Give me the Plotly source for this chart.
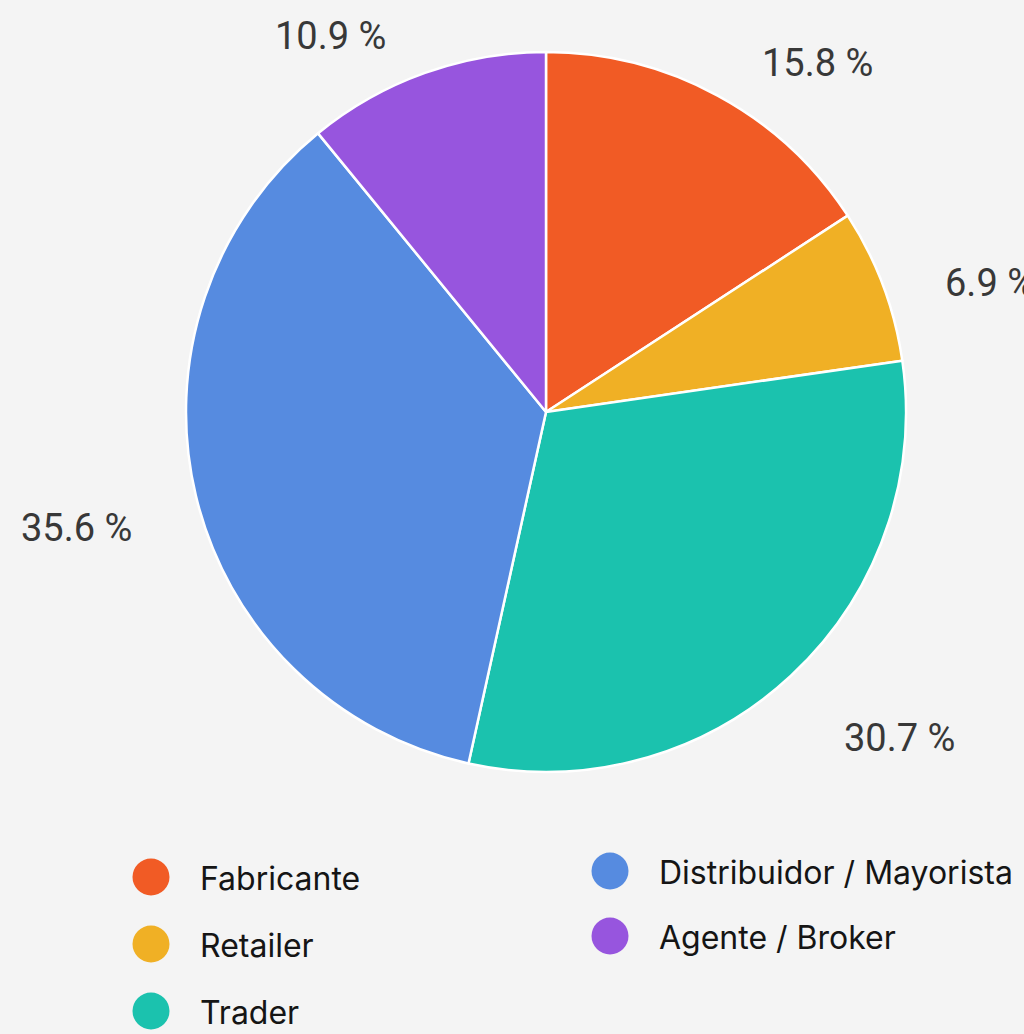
import math
import plotly.graph_objects as go

# ---- data ----
categories = ["Fabricante", "Retailer", "Trader", "Distribuidor / Mayorista", "Agente / Broker"]
shares = [15.8, 6.9, 30.7, 35.6, 10.9]
colors = ["#F15B25", "#F0B025", "#1BC2AE", "#568BE0", "#9755DE"]

# ---- layout constants (pixels) ----
W, H = 1024, 1034
CX, CY, R = 546, 412, 360

def px_x(x):
    return x / W

def px_y(y):
    return 1 - y / H

fig = go.Figure()
fig.add_trace(go.Pie(
    labels=categories,
    values=shares,
    marker=dict(colors=colors, line=dict(color="white", width=2.5)),
    sort=False,
    direction="clockwise",
    rotation=0,
    textinfo="none",
    hoverinfo="label+percent",
    showlegend=False,
    domain=dict(x=[px_x(CX - R), px_x(CX + R)], y=[px_y(CY + R), px_y(CY - R)]),
))

annotations = []
shapes = []

# percentage labels outside the slices, positioned from each slice's mid-angle
total = sum(shares)
cum = 0.0
for v in shares:
    mid = (cum + v / 2) / total * 2 * math.pi
    cum += v
    s, c = math.sin(mid), math.cos(mid)
    side = 1 if s >= 0 else -1
    lx = CX + 399 * s + side * 24
    ly = CY + 19 - 419 * c
    annotations.append(dict(
        x=px_x(lx), y=px_y(ly), xref="paper", yref="paper",
        text=f"{v:.1f} %", showarrow=False,
        xanchor="left" if side > 0 else "right", yanchor="middle",
        font=dict(family="Roboto", size=38, color="#383838"),
    ))

# legend in two columns (column-major)
col_x = [151, 610]
col_y0 = [877, 871]
col_step = [67, 65]
rows_per_col = 3
for i, (name, col) in enumerate(zip(categories, colors)):
    ci = i // rows_per_col
    ri = i % rows_per_col
    mx = col_x[ci]
    my = col_y0[ci] + ri * col_step[ci]
    rad = 18.5
    shapes.append(dict(
        type="circle", xref="paper", yref="paper",
        x0=px_x(mx - rad), x1=px_x(mx + rad), y0=px_y(my + rad), y1=px_y(my - rad),
        fillcolor=col, line=dict(width=0),
    ))
    annotations.append(dict(
        x=px_x(mx + 47), y=px_y(my + 1), xref="paper", yref="paper",
        text=name, showarrow=False, xanchor="left", yanchor="middle",
        font=dict(family="Inter", size=32, color="#151515"),
    ))

fig.update_layout(
    width=W, height=H,
    margin=dict(l=0, r=0, t=0, b=0),
    paper_bgcolor="#F4F4F4",
    plot_bgcolor="#F4F4F4",
    annotations=annotations,
    shapes=shapes,
)

fig.write_html("out.html")
